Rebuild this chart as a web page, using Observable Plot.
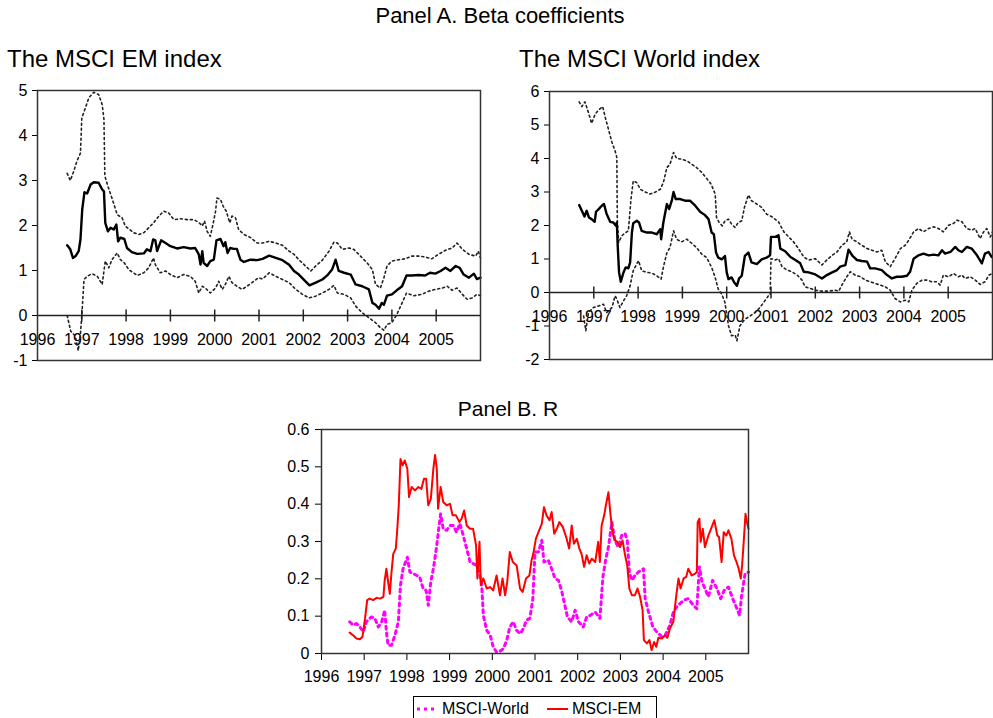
<!DOCTYPE html>
<html><head><meta charset="utf-8">
<script src="https://cdn.jsdelivr.net/npm/d3@7"></script>
<script src="https://cdn.jsdelivr.net/npm/@observablehq/plot@0.6"></script>
<style>
html,body{margin:0;padding:0;background:#fff;}
#root{position:relative;width:993px;height:718px;overflow:hidden;font-family:"Liberation Sans",Arial,Helvetica,sans-serif;color:#000;}
.t{position:absolute;white-space:nowrap;line-height:1;}
.chart{position:absolute;}
#legend{position:absolute;left:413px;top:696px;width:244px;height:30px;border:1px solid #000;box-sizing:border-box;background:#fff;}
#legend .lab{position:absolute;top:4px;font-size:16px;line-height:16px;white-space:nowrap;}
#legend svg{position:absolute;top:5px;}
</style></head>
<body><div id="root">
<div class="t" style="left:0;width:1000px;text-align:center;top:5px;font-size:22px;">Panel A. Beta coefficients</div>
<div class="t" style="left:7px;top:47px;font-size:24px;">The MSCI EM index</div>
<div class="t" style="left:519px;top:47px;font-size:24px;">The MSCI World index</div>
<div class="t" style="left:0;width:1016px;text-align:center;top:398px;font-size:21px;">Panel B. R</div>
<div class="chart" id="a1" style="left:0;top:80px;"></div>
<div class="chart" id="a2" style="left:500px;top:80px;"></div>
<div class="chart" id="b" style="left:260px;top:420px;"></div>
<div id="legend">
  <svg width="18" height="14" style="left:3px"><line x1="0" y1="7" x2="18" y2="7" stroke="#ff00ff" stroke-width="3" stroke-dasharray="3,4"/></svg>
  <span class="lab" style="left:28px">MSCI-World</span>
  <svg width="21" height="14" style="left:133px"><line x1="0" y1="7" x2="21" y2="7" stroke="#ff0000" stroke-width="2"/></svg>
  <span class="lab" style="left:158px">MSCI-EM</span>
</div>
</div>
<script>
// ---------- tick values / labels ----------
const axisYearLabels = [1996,1997,1998,1999,2000,2001,2002,2003,2004,2005];
const zeroLineTickYears = [1997,1998,1999,2000,2001,2002,2003,2004,2005];
const emBetaTicks = [-1,0,1,2,3,4,5];
const worldBetaTicks = [-2,-1,0,1,2,3,4,5,6];
const rTicks = [0,0.1,0.2,0.3,0.4,0.5,0.6];

// ---------- Panel A: MSCI EM beta ----------
const emMidDate = [1996.67,1996.74,1996.80,1996.86,1996.93,1996.97,1997.01,1997.06,1997.12,1997.20,1997.27,1997.38,1997.46,1997.50,1997.53,1997.59,1997.65,1997.72,1997.78,1997.82,1997.87,1997.96,1998.02,1998.13,1998.25,1998.40,1998.47,1998.55,1998.61,1998.66,1998.70,1998.79,1998.89,1999.00,1999.15,1999.30,1999.45,1999.56,1999.64,1999.68,1999.72,1999.75,1999.83,1999.90,1999.98,2000.04,2000.13,2000.20,2000.24,2000.29,2000.35,2000.43,2000.50,2000.58,2000.66,2000.81,2000.96,
 2001.08,2001.23,2001.38,2001.53,2001.68,2001.79,2001.90,2002.05,2002.14,2002.28,2002.43,2002.54,2002.65,2002.73,2002.80,2002.92,2003.07,2003.18,2003.33,2003.48,2003.56,2003.63,2003.71,2003.77,2003.82,2003.89,2004.00,2004.11,2004.23,2004.33,2004.45,2004.60,2004.75,2004.86,2004.98,2005.10,2005.21,2005.32,2005.44,2005.53,2005.62,2005.74,2005.85,2005.92,2006.00];
const emMidBeta = [1.56,1.47,1.28,1.32,1.43,1.69,2.36,2.74,2.71,2.91,2.96,2.95,2.80,2.76,2.06,1.87,1.95,1.91,2.02,1.65,1.73,1.70,1.50,1.41,1.37,1.38,1.47,1.43,1.69,1.67,1.43,1.67,1.61,1.54,1.49,1.52,1.49,1.50,1.36,1.13,1.43,1.17,1.10,1.21,1.24,1.67,1.70,1.54,1.63,1.39,1.50,1.48,1.48,1.24,1.19,1.24,1.23,
 1.26,1.33,1.28,1.23,1.13,0.99,0.91,0.76,0.67,0.73,0.80,0.89,1.02,1.24,0.99,0.95,0.91,0.69,0.65,0.58,0.28,0.24,0.15,0.28,0.24,0.44,0.47,0.56,0.65,0.89,0.89,0.90,0.89,0.95,0.93,0.99,1.06,0.99,1.10,1.06,0.91,0.84,0.93,0.81,0.84];
const emUpDate = [1996.67,1996.74,1996.82,1996.89,1996.97,1997.00,1997.08,1997.16,1997.27,1997.38,1997.46,1997.50,1997.52,1997.59,1997.68,1997.80,1997.91,1997.98,1998.17,1998.29,1998.40,1998.51,1998.62,1998.74,1998.85,1998.96,1999.08,1999.23,1999.38,1999.53,1999.64,1999.72,1999.77,1999.83,1999.90,1999.96,2000.02,2000.05,2000.13,2000.19,2000.26,2000.34,2000.39,2000.47,2000.54,2000.66,2000.81,2000.96,
 2001.08,2001.23,2001.38,2001.53,2001.68,2001.79,2001.90,2002.05,2002.17,2002.28,2002.43,2002.58,2002.69,2002.77,2002.88,2003.03,2003.14,2003.29,2003.44,2003.56,2003.63,2003.74,2003.82,2003.89,2004.00,2004.15,2004.30,2004.45,2004.60,2004.75,2004.90,2005.05,2005.21,2005.36,2005.47,2005.59,2005.74,2005.89,2005.95,2006.00];
const emUpBeta = [3.16,3.00,3.21,3.43,3.61,4.39,4.61,4.84,4.96,4.91,4.69,4.36,3.10,2.87,2.61,2.24,2.17,1.99,1.84,1.80,1.84,1.95,2.06,2.21,2.32,2.28,2.13,2.15,2.13,2.13,2.07,1.99,2.10,1.87,1.76,2.02,2.32,2.61,2.58,2.43,2.32,2.06,2.21,2.17,1.91,1.80,1.73,1.61,
 1.61,1.65,1.61,1.56,1.43,1.36,1.24,1.10,0.99,1.10,1.23,1.43,1.63,1.61,1.47,1.50,1.47,1.32,1.17,1.02,0.69,0.61,0.84,1.10,1.21,1.24,1.26,1.32,1.32,1.30,1.26,1.36,1.45,1.50,1.61,1.47,1.36,1.32,1.43,1.28];
const emLowDate = [1996.67,1996.75,1996.85,1996.92,1996.97,1997.00,1997.05,1997.12,1997.23,1997.35,1997.46,1997.53,1997.61,1997.68,1997.80,1997.87,1997.96,1998.06,1998.25,1998.40,1998.51,1998.62,1998.66,1998.77,1998.89,1999.00,1999.15,1999.30,1999.45,1999.56,1999.64,1999.72,1999.79,1999.90,2000.02,2000.09,2000.17,2000.24,2000.32,2000.39,2000.50,2000.62,2000.73,2000.88,2000.99,
 2001.08,2001.23,2001.38,2001.53,2001.68,2001.83,2001.98,2002.13,2002.28,2002.43,2002.58,2002.69,2002.77,2002.92,2003.07,2003.18,2003.33,2003.48,2003.63,2003.74,2003.82,2003.89,2004.00,2004.11,2004.23,2004.33,2004.49,2004.68,2004.83,2004.98,2005.14,2005.25,2005.36,2005.47,2005.59,2005.70,2005.81,2005.92,2006.00];
const emLowBeta = [0.00,-0.35,-0.45,-0.78,-0.40,0.00,0.80,0.87,0.93,0.87,0.69,1.21,1.06,1.24,1.39,1.24,1.17,1.02,0.89,0.95,1.06,1.28,1.13,0.95,0.99,0.91,0.84,0.91,0.87,0.76,0.50,0.65,0.61,0.50,0.61,0.76,0.58,0.69,0.87,0.73,0.65,0.58,0.65,0.76,0.84,
 0.81,0.95,0.87,0.80,0.73,0.58,0.47,0.39,0.43,0.50,0.58,0.67,0.50,0.47,0.39,0.21,0.06,-0.05,-0.16,-0.27,-0.33,-0.20,-0.16,0.02,0.28,0.50,0.44,0.47,0.54,0.58,0.61,0.65,0.56,0.61,0.47,0.36,0.39,0.47,0.44];

// ---------- Panel A: MSCI World beta ----------
const wMidDate = [1996.67,1996.73,1996.79,1996.84,1996.89,1996.95,1997.02,1997.05,1997.11,1997.18,1997.23,1997.29,1997.37,1997.44,1997.50,1997.52,1997.54,1997.57,1997.61,1997.67,1997.72,1997.78,1997.82,1997.86,1997.89,1997.97,1998.02,1998.08,1998.20,1998.31,1998.42,1998.50,1998.52,1998.57,1998.65,1998.70,1998.76,1998.80,1998.85,1998.95,1999.06,1999.17,1999.29,1999.40,1999.51,1999.59,1999.66,1999.71,1999.76,1999.81,1999.89,1999.96,2000.00,2000.04,2000.11,2000.17,2000.23,2000.28,2000.34,2000.41,2000.49,2000.56,2000.68,2000.79,2000.90,
 2000.98,2001.00,2001.10,2001.17,2001.21,2001.32,2001.44,2001.55,2001.66,2001.74,2001.85,2002.00,2002.15,2002.26,2002.38,2002.49,2002.56,2002.68,2002.75,2002.84,2002.94,2003.05,2003.17,2003.24,2003.35,2003.50,2003.62,2003.73,2003.84,2003.95,2004.07,2004.14,2004.22,2004.33,2004.44,2004.56,2004.67,2004.78,2004.86,2004.93,2005.05,2005.16,2005.23,2005.31,2005.42,2005.53,2005.65,2005.76,2005.83,2005.91,2005.98];
const wMidBeta = [2.61,2.44,2.27,2.44,2.24,2.19,2.11,2.41,2.49,2.59,2.64,2.34,2.11,2.09,1.99,2.09,1.39,0.60,0.32,0.60,0.75,0.72,0.90,1.79,2.07,2.14,2.09,1.84,1.79,1.79,1.74,1.89,1.59,2.09,2.64,2.49,2.74,3.00,2.79,2.79,2.74,2.74,2.59,2.41,2.31,2.19,1.79,1.74,1.19,1.04,0.99,1.09,0.60,0.40,0.45,0.30,0.20,0.42,0.50,1.09,1.19,0.90,0.85,0.99,1.04,
 1.11,1.66,1.66,1.71,1.31,1.23,1.06,0.97,0.87,0.62,0.60,0.54,0.42,0.52,0.60,0.67,0.77,0.82,1.28,1.09,0.97,0.94,0.92,0.72,0.72,0.67,0.52,0.42,0.47,0.47,0.50,0.62,1.01,1.11,1.16,1.11,1.13,1.11,1.26,1.16,1.21,1.36,1.26,1.21,1.36,1.31,1.11,0.87,1.16,1.21,1.06];
const wUpDate = [1996.67,1996.73,1996.80,1996.88,1996.95,1997.03,1997.11,1997.20,1997.26,1997.33,1997.41,1997.48,1997.52,1997.53,1997.56,1997.63,1997.72,1997.78,1997.84,1997.89,1997.97,1998.05,1998.16,1998.27,1998.38,1998.50,1998.57,1998.65,1998.72,1998.80,1998.87,1998.98,1999.10,1999.21,1999.32,1999.44,1999.55,1999.65,1999.74,1999.77,1999.83,1999.90,1999.96,2000.04,2000.11,2000.19,2000.26,2000.34,2000.40,2000.49,2000.56,2000.68,2000.79,2000.90,
 2001.02,2001.17,2001.29,2001.40,2001.51,2001.62,2001.74,2001.85,2002.00,2002.15,2002.26,2002.38,2002.49,2002.60,2002.71,2002.77,2002.83,2002.94,2003.05,2003.17,2003.28,2003.39,2003.50,2003.58,2003.69,2003.80,2003.92,2004.03,2004.11,2004.22,2004.33,2004.44,2004.56,2004.67,2004.78,2004.89,2005.01,2005.12,2005.20,2005.31,2005.42,2005.53,2005.61,2005.72,2005.80,2005.87,2005.95,2006.00];
const wUpBeta = [5.69,5.55,5.69,5.37,5.05,5.32,5.45,5.55,5.22,4.88,4.48,4.23,4.03,2.19,1.49,1.69,1.79,1.84,2.79,3.33,3.28,3.08,3.00,2.94,2.99,3.08,3.28,3.73,3.83,4.18,4.00,3.98,3.93,3.83,3.73,3.58,3.40,3.23,2.94,2.24,2.09,1.99,2.14,2.19,2.04,1.94,2.09,2.14,2.54,2.91,2.74,2.64,2.54,2.34,
 2.26,2.11,1.81,1.66,1.51,1.31,1.06,0.97,1.01,0.82,0.97,1.11,1.21,1.41,1.51,1.81,1.59,1.51,1.41,1.31,1.26,1.21,1.26,0.92,0.77,1.01,1.31,1.41,1.56,1.81,1.91,1.81,1.91,1.96,1.91,1.81,2.01,2.06,2.16,2.11,1.91,1.86,1.91,1.61,1.81,1.91,1.66,1.81];
const wLowDate = [1996.77,1996.82,1996.88,1996.99,1997.11,1997.22,1997.29,1997.41,1997.48,1997.52,1997.59,1997.67,1997.74,1997.82,1997.89,1998.01,1998.08,1998.20,1998.31,1998.42,1998.52,1998.57,1998.65,1998.72,1998.80,1998.87,1998.98,1999.10,1999.21,1999.32,1999.44,1999.55,1999.66,1999.74,1999.81,1999.89,1999.96,2000.04,2000.11,2000.19,2000.23,2000.30,2000.41,2000.53,2000.64,2000.75,2000.86,2000.94,2000.98,
 2001.00,2001.10,2001.17,2001.25,2001.36,2001.47,2001.59,2001.70,2001.77,2001.89,2002.00,2002.15,2002.30,2002.45,2002.53,2002.60,2002.71,2002.79,2002.90,2003.02,2003.13,2003.24,2003.35,2003.47,2003.58,2003.69,2003.80,2003.92,2004.03,2004.11,2004.18,2004.29,2004.41,2004.52,2004.63,2004.74,2004.82,2004.89,2005.01,2005.12,2005.23,2005.31,2005.38,2005.50,2005.61,2005.72,2005.83,2005.92,2006.00];
const wLowBeta = [-0.70,-1.14,-0.60,-0.45,-0.40,-0.35,-0.60,-0.45,-0.10,-0.20,-0.45,-0.25,-0.10,0.20,0.65,0.95,0.65,0.60,0.58,0.50,0.40,0.75,1.19,1.34,1.84,1.59,1.51,1.59,1.47,1.34,1.14,1.04,0.75,0.45,0.10,-0.05,-0.30,-0.99,-1.29,-1.27,-1.44,-0.99,-0.80,-0.70,-0.60,-0.45,-0.25,-0.10,-0.08,
 1.01,0.97,1.01,0.77,0.67,0.62,0.52,0.37,0.17,0.12,0.07,0.04,0.04,0.07,0.04,0.22,0.47,0.62,0.52,0.47,0.37,0.32,0.27,0.22,0.17,0.07,-0.18,-0.28,-0.23,-0.28,0.07,0.27,0.37,0.37,0.32,0.32,0.22,0.52,0.47,0.57,0.47,0.52,0.42,0.47,0.37,0.24,0.32,0.52,0.57];

// ---------- Panel B: R ----------
const rEmDate = [1996.66,1996.74,1996.82,1996.90,1996.96,1997.02,1997.07,1997.13,1997.21,1997.29,1997.37,1997.45,1997.48,1997.52,1997.56,1997.60,1997.64,1997.68,1997.74,1997.77,1997.81,1997.85,1997.90,1997.95,1998.01,1998.05,1998.11,1998.19,1998.27,1998.34,1998.40,1998.45,1998.50,1998.56,1998.62,1998.66,1998.70,1998.73,1998.79,1998.85,1998.93,1999.01,1999.07,1999.15,1999.23,1999.28,1999.34,1999.40,1999.48,1999.55,1999.62,1999.65,1999.70,1999.73,1999.79,1999.87,1999.95,2000.02,2000.10,2000.18,2000.24,2000.30,2000.35,2000.41,2000.48,2000.57,2000.65,2000.71,2000.79,2000.87,2000.92,2000.96,
 2001.02,2001.08,2001.16,2001.21,2001.27,2001.34,2001.39,2001.45,2001.51,2001.57,2001.65,2001.73,2001.80,2001.86,2001.91,2001.98,2002.04,2002.09,2002.15,2002.21,2002.27,2002.33,2002.41,2002.48,2002.52,2002.56,2002.62,2002.66,2002.72,2002.77,2002.82,2002.87,2002.93,2002.99,2003.05,2003.11,2003.16,2003.21,2003.27,2003.34,2003.40,2003.46,2003.52,2003.55,2003.62,2003.68,2003.73,2003.79,2003.84,2003.89,2003.97,2004.05,2004.10,2004.16,2004.24,2004.30,2004.36,2004.41,2004.48,2004.54,2004.59,2004.67,2004.75,2004.79,2004.81,2004.85,2004.88,2004.93,2004.98,2005.06,2005.14,2005.20,2005.27,2005.31,2005.37,2005.42,2005.48,2005.53,2005.60,2005.66,2005.72,2005.77,2005.82,2005.85,2005.88,2005.93,2005.98,2006.00];
const rEmValue = [0.056,0.049,0.040,0.038,0.045,0.094,0.143,0.147,0.143,0.149,0.147,0.152,0.196,0.227,0.192,0.160,0.218,0.267,0.281,0.325,0.397,0.521,0.504,0.517,0.495,0.419,0.446,0.437,0.446,0.441,0.468,0.468,0.397,0.414,0.495,0.532,0.495,0.388,0.446,0.406,0.397,0.401,0.370,0.370,0.352,0.361,0.383,0.343,0.334,0.334,0.290,0.201,0.299,0.183,0.201,0.174,0.178,0.169,0.209,0.156,0.201,0.156,0.192,0.272,0.245,0.236,0.174,0.165,0.201,0.209,0.250,0.267,
 0.307,0.325,0.348,0.392,0.370,0.357,0.379,0.321,0.334,0.352,0.339,0.312,0.281,0.343,0.294,0.307,0.281,0.267,0.232,0.263,0.241,0.254,0.245,0.299,0.245,0.343,0.370,0.397,0.432,0.370,0.321,0.303,0.299,0.285,0.303,0.263,0.236,0.174,0.156,0.156,0.174,0.152,0.116,0.036,0.027,0.036,0.009,0.031,0.018,0.042,0.040,0.049,0.042,0.067,0.085,0.147,0.201,0.174,0.201,0.205,0.227,0.209,0.214,0.218,0.352,0.361,0.299,0.334,0.285,0.316,0.339,0.357,0.316,0.312,0.245,0.325,0.316,0.330,0.307,0.263,0.245,0.227,0.201,0.236,0.285,0.374,0.343,0.334];
const rWorldDate = [1996.66,1996.74,1996.82,1996.90,1996.98,1997.05,1997.17,1997.25,1997.33,1997.41,1997.48,1997.52,1997.56,1997.64,1997.72,1997.80,1997.85,1997.91,1998.01,1998.07,1998.15,1998.23,1998.30,1998.38,1998.45,1998.50,1998.56,1998.62,1998.66,1998.70,1998.75,1998.79,1998.85,1998.93,1999.01,1999.09,1999.16,1999.24,1999.32,1999.40,1999.48,1999.55,1999.63,1999.71,1999.75,1999.79,1999.87,1999.95,2000.02,2000.10,2000.18,2000.26,2000.34,2000.41,2000.49,2000.57,2000.65,2000.73,2000.80,2000.88,2000.95,
 2001.00,2001.08,2001.16,2001.21,2001.31,2001.39,2001.47,2001.55,2001.63,2001.70,2001.76,2001.86,2001.94,2002.02,2002.13,2002.21,2002.29,2002.41,2002.52,2002.59,2002.66,2002.72,2002.80,2002.87,2002.95,2003.03,2003.11,2003.16,2003.21,2003.27,2003.34,2003.42,2003.54,2003.58,2003.66,2003.76,2003.85,2003.97,2004.05,2004.16,2004.24,2004.32,2004.40,2004.49,2004.59,2004.71,2004.79,2004.85,2004.91,2004.98,2005.06,2005.16,2005.26,2005.35,2005.43,2005.53,2005.63,2005.73,2005.79,2005.84,2005.92,2006.00];
const rWorldValue = [0.085,0.076,0.080,0.071,0.058,0.085,0.098,0.094,0.071,0.085,0.116,0.058,0.022,0.022,0.049,0.085,0.183,0.227,0.258,0.218,0.214,0.209,0.205,0.174,0.169,0.129,0.192,0.227,0.258,0.290,0.339,0.374,0.334,0.330,0.343,0.343,0.325,0.348,0.316,0.281,0.245,0.241,0.236,0.209,0.187,0.102,0.062,0.049,0.018,0.004,0.006,0.013,0.036,0.071,0.085,0.062,0.053,0.067,0.089,0.094,0.147,
 0.272,0.272,0.303,0.245,0.250,0.227,0.201,0.196,0.165,0.129,0.098,0.085,0.116,0.085,0.071,0.098,0.102,0.111,0.094,0.205,0.254,0.285,0.352,0.303,0.285,0.316,0.321,0.303,0.218,0.196,0.209,0.218,0.227,0.147,0.111,0.071,0.058,0.045,0.049,0.076,0.111,0.125,0.134,0.143,0.147,0.129,0.120,0.232,0.192,0.174,0.152,0.196,0.174,0.147,0.169,0.178,0.147,0.120,0.102,0.156,0.214,0.218];

const legendNames = ["MSCI-World", "MSCI-EM"];

// ---------- helpers ----------
const zip = (dates, values) => dates.map((d, i) => ({date: d, value: values[i]}));
const crossTick = {draw(ctx, size) { const r = Math.sqrt(size / Math.PI); ctx.moveTo(0, -r); ctx.lineTo(0, r); }};
const FONT = '"Liberation Sans", Arial, Helvetica, sans-serif';
const baseStyle = {fontFamily: FONT, fontSize: "16px", color: "#000", background: "transparent", overflow: "visible"};
const intFmt = d => String(d);

function betaChart(opts) {
  return Plot.plot({
    width: opts.width, height: 290,
    marginLeft: opts.ml, marginRight: opts.mr, marginTop: opts.mt, marginBottom: opts.mb,
    style: baseStyle,
    x: {domain: [1996, 2006], axis: null},
    y: {domain: opts.domain, ticks: opts.ticks, tickSize: 5, tickPadding: 5, tickFormat: intFmt, label: null},
    marks: [
      Plot.ruleY([0], {stroke: "#222", strokeWidth: 1.5}),
      Plot.dot(zeroLineTickYears, {x: d => d, y: 0, symbol: crossTick, r: 6, stroke: "#222", strokeWidth: 1.5, fill: "none"}),
      Plot.text(axisYearLabels, {x: d => d, y: 0, dy: opts.labelDy, text: d => String(d), fontSize: 16, fill: "#000"}),
      Plot.line(zip(opts.lowD, opts.lowV), {x: "date", y: "value", stroke: "#222", strokeWidth: 1.6, strokeDasharray: "2,3"}),
      Plot.line(zip(opts.upD, opts.upV), {x: "date", y: "value", stroke: "#222", strokeWidth: 1.6, strokeDasharray: "2,3"}),
      Plot.line(zip(opts.midD, opts.midV), {x: "date", y: "value", stroke: "#000", strokeWidth: 2.4}),
      Plot.frame({stroke: "#333", strokeWidth: 1.5})
    ]
  });
}

document.getElementById("a1").append(betaChart({
  width: 490, ml: 37, mr: 10, mt: 10, mb: 10, domain: [-1, 5], ticks: emBetaTicks, labelDy: 24,
  midD: emMidDate, midV: emMidBeta, upD: emUpDate, upV: emUpBeta, lowD: emLowDate, lowV: emLowBeta
}));
document.getElementById("a2").append(betaChart({
  width: 493, ml: 49, mr: 1, mt: 11, mb: 11, domain: [-2, 6], ticks: worldBetaTicks, labelDy: 24,
  midD: wMidDate, midV: wMidBeta, upD: wUpDate, upV: wUpBeta, lowD: wLowDate, lowV: wLowBeta
}));

document.getElementById("b").append(Plot.plot({
  width: 500, height: 275,
  marginLeft: 61, marginRight: 12, marginTop: 9, marginBottom: 42,
  style: baseStyle,
  x: {domain: [1996, 2006], ticks: axisYearLabels, tickSize: 7, tickPadding: 10, tickFormat: intFmt, label: null},
  y: {domain: [0, 0.6], ticks: rTicks, tickSize: 6, tickPadding: 6, tickFormat: intFmt, label: null},
  marks: [
    Plot.line(zip(rWorldDate, rWorldValue), {x: "date", y: "value", stroke: "#ff00ff", strokeWidth: 3, strokeDasharray: "3,4"}),
    Plot.line(zip(rEmDate, rEmValue), {x: "date", y: "value", stroke: "#ff0000", strokeWidth: 2}),
    Plot.frame({stroke: "#333", strokeWidth: 1.5})
  ]
}));
</script>
</body></html>
